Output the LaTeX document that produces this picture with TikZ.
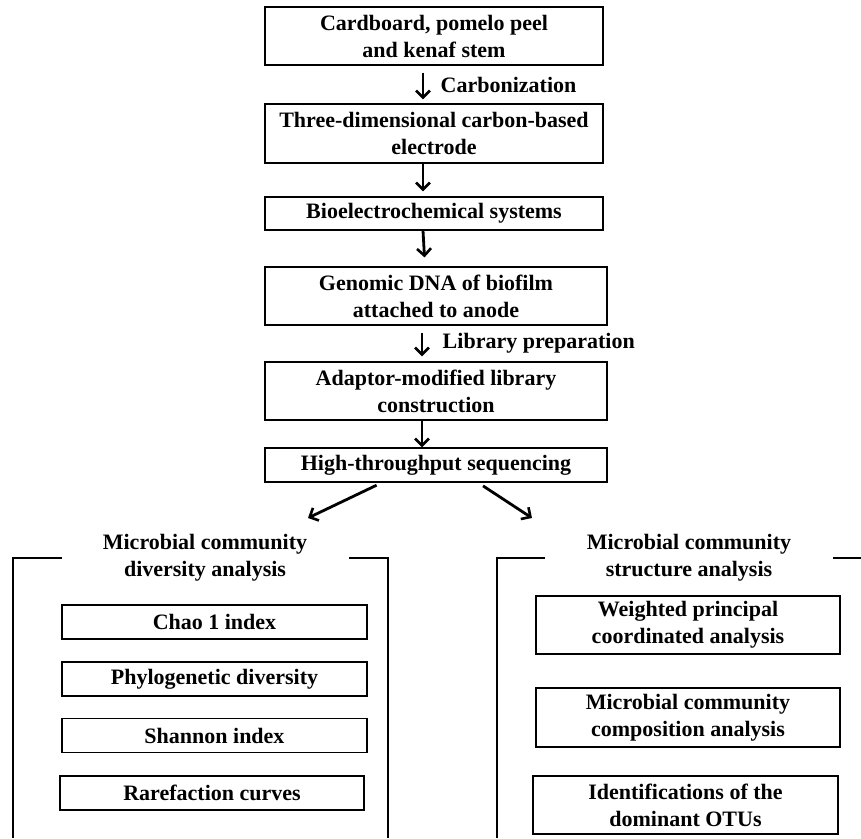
\documentclass[tikz,border=0pt]{standalone}
\usepackage{fontspec}
\setmainfont{Liberation Serif}
\usepackage{tikz}
\usetikzlibrary{arrows.meta}
\usetikzlibrary{calc}
\usetikzlibrary{positioning}

\begin{document}
\begin{tikzpicture}[
	x=1pt, y=1pt,
	every node/.style={font=\fontsize{22}{27}\selectfont\bfseries},
	box/.style = {draw, line width=1.2pt, align=center, inner sep=0pt},
	flow/.style = {line width=2.8pt, -{Straight Barb[length=7pt,width=14pt,line width=2.6pt]}},
	frame/.style = {line width=2.8pt}
	]
	\useasboundingbox (0,0) rectangle (861,838);

	\coordinate (divin) at (308,320);
	\coordinate (strin) at (532,320);

	\node[box, minimum width=338pt, minimum height=58pt] (raw)  at (434,802)   {Cardboard, pomelo peel\\and kenaf stem};
	\node[box, minimum width=338pt, minimum height=59pt] (elec) at (434,704.5) {Three-dimensional carbon-based\\electrode};
	\node[box, minimum width=338pt, minimum height=33pt] (bes)  at (434,624.5) {Bioelectrochemical systems};
	\node[box, minimum width=342pt, minimum height=58pt] (dna)  at (436,542)   {Genomic DNA of biofilm\\attached to anode};
	\node[box, minimum width=342pt, minimum height=58pt] (lib)  at (436,447)   {Adaptor-modified library\\construction};
	\node[box, minimum width=342pt, minimum height=34pt] (hts)  at (436,373)   {High-throughput sequencing};

	\draw[flow, shorten <=7pt, shorten >=4pt] ([xshift=-11pt]raw.south) -- ([xshift=-11pt]elec.north) node[midway, right=13pt] {Carbonization};
	\draw[flow, shorten >=5pt] ([xshift=-11pt]elec.south) -- ([xshift=-11pt]bes.north);
	\draw[flow, shorten >=9pt] ([xshift=-11pt]bes.south) -- ([xshift=-11pt]dna.north);
	\draw[flow, shorten <=7pt, shorten >=5pt] ([xshift=-14pt]dna.south) -- ([xshift=-14pt]lib.north) node[midway, right=16pt] {Library preparation};
	\draw[flow] ([xshift=-14pt]lib.south) -- ([xshift=-14pt]hts.north);
	\draw[flow, shorten <=6pt] ([xshift=-54pt]hts.south) -- (divin);
	\draw[flow, shorten <=6pt] ([xshift=42pt]hts.south) -- (strin);

	% diversity
	\draw[frame] (62,280) -- (13,280) -- (13,0);
	\draw[frame] (349,280) -- (388,280) -- (388,0);
	\node[align=center] (divtitle) at (205,280.5) {Microbial community\\diversity analysis};
	\node[box, minimum width=305pt, minimum height=34pt] (chao)  at (214.5,216)   {Chao 1 index};
	\node[box, minimum width=305pt, minimum height=34pt] (phylo) at (214.5,159)   {Phylogenetic diversity};
	\node[box, minimum width=305pt, minimum height=34pt] (shan)  at (214.5,102.5) {Shannon index};
	\node[box, minimum width=304pt, minimum height=34pt] (rare)  at (212,45)      {Rarefaction curves};

	% structure
	\draw[frame] (545,280) -- (497,280) -- (497,0);
	\draw[frame] (833,280) -- (861,280);
	\node[align=center] (strtitle) at (689,280.5) {Microbial community\\structure analysis};
	\node[box, minimum width=304pt, minimum height=58pt] (pcoa)  at (688,213)   {Weighted principal\\coordinated analysis};
	\node[box, minimum width=304pt, minimum height=59pt] (comp)  at (688,120.5) {Microbial community\\composition analysis};
	\node[box, minimum width=305pt, minimum height=58pt] (otu)   at (685.5,33)  {Identifications of the\\dominant OTUs};
\end{tikzpicture}
\end{document}
